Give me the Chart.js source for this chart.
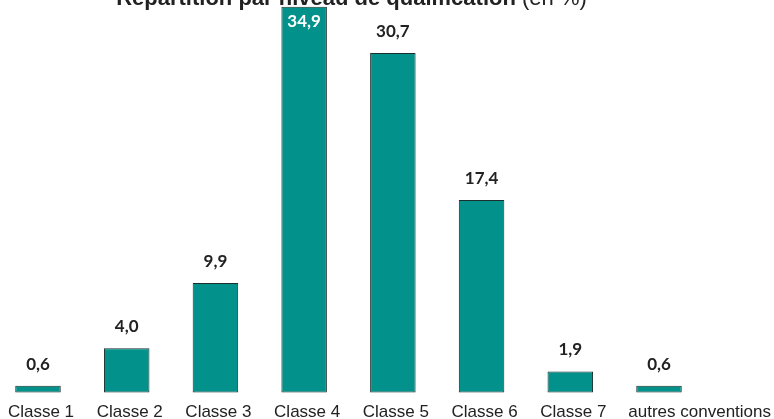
<!DOCTYPE html>
<html lang="fr">
<head>
<meta charset="utf-8">
<title>Répartition par niveau de qualification</title>
<script src="https://cdn.jsdelivr.net/npm/chart.js@4/dist/chart.umd.min.js"></script>
<style>
    html, body { margin: 0; padding: 0; background: #fff; }
    #wrap { width: 774px; height: 419px; position: relative; }
</style>
</head>
<body>
<div id="wrap"><canvas id="graphiqueQualif"></canvas></div>
<script>
const categories = ['Classe 1', 'Classe 2', 'Classe 3', 'Classe 4', 'Classe 5', 'Classe 6', 'Classe 7', 'autres conventions'];
const valeurs = [0.6, 4.0, 9.9, 34.9, 30.7, 17.4, 1.9, 0.6];
const titreGras = 'Répartition par niveau de qualification';
const titreNormal = ' (en %)';

const POLICE_AXE = '17px "Liberation Sans", Arial, sans-serif';

function formatValeur(v) {
    return v.toFixed(1).replace('.', ',');
}

// titre en haut, a moitie coupe par le bord
const titrePlugin = {
    id: 'titre',
    afterDraw(chart) {
        const ctx = chart.ctx;
        const gras = 'bold 22px "Liberation Sans", Arial, sans-serif';
        const normal = '22px "Liberation Sans", Arial, sans-serif';
        ctx.save();
        ctx.fillStyle = '#222';
        ctx.textBaseline = 'alphabetic';
        ctx.textAlign = 'left';
        ctx.font = gras;
        const w1 = ctx.measureText(titreGras).width;
        ctx.font = normal;
        const w2 = ctx.measureText(titreNormal).width;
        const x0 = 351.5 - (w1 + w2) / 2;
        ctx.font = gras;
        ctx.fillText(titreGras, x0, 5);
        ctx.font = normal;
        ctx.fillText(titreNormal, x0 + w1, 5);
        ctx.restore();
    }
};

// libelles de l'axe x : le dernier est cale sur le bord droit
const libellesPlugin = {
    id: 'libelles',
    afterDraw(chart) {
        const ctx = chart.ctx;
        const xScale = chart.scales.x;
        ctx.save();
        ctx.font = POLICE_AXE;
        ctx.fillStyle = '#222';
        ctx.textBaseline = 'alphabetic';
        categories.forEach((cat, i) => {
            const x = xScale.getPixelForValue(i);
            if (i === categories.length - 1) {
                ctx.textAlign = 'right';
                ctx.fillText(cat, chart.width - 3, 417);
            } else {
                ctx.textAlign = 'center';
                ctx.fillText(cat, x + 3, 417);
            }
        });
        ctx.restore();
    }
};

// valeurs au-dessus des barres (dans la barre si pas de place)
const valeursPlugin = {
    id: 'valeurs',
    afterDatasetsDraw(chart) {
        const ctx = chart.ctx;
        const meta = chart.getDatasetMeta(0);
        ctx.save();
        ctx.font = 'bold 17px Lato, "DejaVu Sans", sans-serif';
        ctx.textAlign = 'center';
        ctx.textBaseline = 'alphabetic';
        meta.data.forEach((bar, i) => {
            const txt = formatValeur(valeurs[i]);
            if (bar.y - 30 < 0) {
                ctx.fillStyle = '#fff';
                ctx.fillText(txt, bar.x, bar.y + 20);
            } else {
                ctx.fillStyle = '#222';
                ctx.fillText(txt, bar.x, bar.y - 16);
            }
        });
        ctx.restore();
    }
};

new Chart(document.getElementById('graphiqueQualif'), {
    type: 'bar',
    data: {
        labels: categories,
        datasets: [{
            data: valeurs,
            backgroundColor: '#02928b',
            borderColor: '#1b302e',
            borderWidth: 1,
            borderSkipped: false,
            categoryPercentage: 1,
            barPercentage: 0.513,
            clip: false
        }]
    },
    options: {
        responsive: true,
        maintainAspectRatio: false,
        animation: false,
        layout: {
            padding: { left: 38, right: 115, top: 0, bottom: 26.5 }
        },
        plugins: {
            legend: { display: false },
            title: { display: false },
            tooltip: { enabled: false }
        },
        scales: {
            x: {
                offset: false,
                grid: { display: false, drawTicks: false },
                border: { display: false },
                ticks: { display: false }
            },
            y: {
                display: false,
                min: 0,
                max: 35.5
            }
        }
    },
    plugins: [titrePlugin, libellesPlugin, valeursPlugin]
});
</script>
</body>
</html>
